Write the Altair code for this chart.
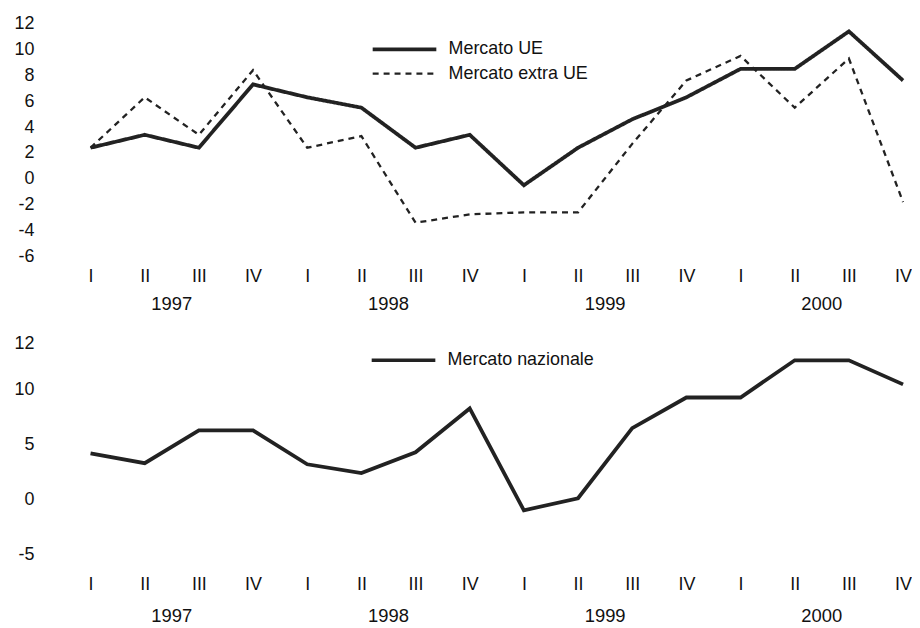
import json
import altair as alt
import pandas as pd

FONT = "Liberation Sans"
FS = 18

# ---- data ----
quarters = ["I", "II", "III", "IV", "I", "II", "III", "IV",
            "I", "II", "III", "IV", "I", "II", "III", "IV"]
years = ["1997", "1998", "1999", "2000"]
year_centers = [1.5, 5.5, 9.5, 13.5]

mercato_ue = [2.4, 3.4, 2.4, 7.3, 6.3, 5.5, 2.4, 3.4,
              -0.5, 2.4, 4.6, 6.3, 8.5, 8.5, 11.4, 7.6]
mercato_extra_ue = [2.4, 6.3, 3.4, 8.4, 2.4, 3.3, -3.4, -2.75,
                    -2.6, -2.6, 2.7, 7.6, 9.5, 5.5, 9.3, -1.8]
mercato_nazionale = [4.2, 3.3, 6.3, 6.3, 3.2, 2.4, 4.3, 8.3,
                     -1.0, 0.1, 6.5, 9.3, 9.3, 12.7, 12.7, 10.5]

top_ticks = [-6, -4, -2, 0, 2, 4, 6, 8, 10, 12]
top_tick_labels = ["-6", "-4", "-2", "0", "2", "4", "6", "8", "10", "12"]
bottom_ticks = [-5, 0, 5, 10, 14.2]
bottom_tick_labels = ["-5", "0", "5", "10", "12"]

series_top = ["Mercato UE", "Mercato extra UE"]
series_bottom = ["Mercato nazionale"]

# ---- tables ----
t = list(range(len(quarters)))
df_top = pd.DataFrame({
    "t": t + t,
    "serie": [series_top[0]] * len(t) + [series_top[1]] * len(t),
    "v": mercato_ue + mercato_extra_ue,
})
df_bot = pd.DataFrame({"t": t, "serie": series_bottom * len(t), "v": mercato_nazionale})
df_years = pd.DataFrame({"t": year_centers, "year": years})

W = 817
H_TOP = 234
H_BOT = 222.4
INK = "#222222"

x_enc = alt.X(
    "t:Q",
    scale=alt.Scale(domain=[0, len(quarters) - 1], nice=False, zero=False),
    axis=alt.Axis(values=t, labelExpr=f"{json.dumps(quarters)}[datum.value]",
                  title=None, labelPadding=11, labelAngle=0, labelFlush=False,
                  labelOverlap=False),
)


def tick_expr(values, labels):
    return f"{json.dumps(labels)}[indexof({json.dumps(values)}, datum.value)]"


def legend(lx, ly, row_pad):
    return alt.Legend(title=None, orient="none", legendX=lx, legendY=ly,
                      symbolType="M-4,0H4", symbolSize=256,
                      symbolStrokeColor=INK, labelOffset=34.3, rowPadding=row_pad,
                      labelFont=FONT, labelFontSize=FS, labelColor="#111",
                      padding=0, labelLimit=0)


leg_top = legend(305.7, 16.0, 5.7)
top_lines = alt.Chart(df_top).mark_line(color=INK).encode(
    x=x_enc,
    y=alt.Y("v:Q", scale=alt.Scale(domain=[top_ticks[0], top_ticks[-1]], nice=False, zero=False),
            axis=alt.Axis(values=top_ticks, title=None, labelPadding=57,
                          labelExpr=tick_expr(top_ticks, top_tick_labels))),
    strokeDash=alt.StrokeDash("serie:N", scale=alt.Scale(domain=series_top, range=[[1, 0], [6, 5]]),
                              legend=leg_top),
    strokeWidth=alt.StrokeWidth("serie:N", scale=alt.Scale(domain=series_top, range=[3.8, 2.3]),
                                legend=leg_top),
)


def year_layer(h, off):
    return alt.Chart(df_years).mark_text(baseline="alphabetic", align="center", font=FONT,
                                         fontSize=FS + 0.5, color="#111").encode(
        x=x_enc, y=alt.value(h + off), text="year:N")


top = alt.layer(top_lines, year_layer(H_TOP, 54)).properties(width=W, height=H_TOP)

bot_lines = alt.Chart(df_bot).mark_line(strokeWidth=3.8).encode(
    x=x_enc,
    y=alt.Y("v:Q", scale=alt.Scale(domain=[-6, bottom_ticks[-1]], nice=False, zero=False),
            axis=alt.Axis(values=bottom_ticks, title=None, labelPadding=57,
                          labelExpr=tick_expr(bottom_ticks, bottom_tick_labels))),
    color=alt.Color("serie:N", scale=alt.Scale(domain=series_bottom, range=[INK]),
                    legend=legend(304.7, 6.45, 5.7)),
)
bottom = alt.layer(bot_lines, year_layer(H_BOT, 57)).properties(width=W, height=H_BOT)

chart = alt.vconcat(top, bottom, spacing=21).resolve_legend(
    color="independent", strokeDash="independent", strokeWidth="independent"
).properties(
    padding={"left": 5, "top": 5, "right": 0, "bottom": 0}
).configure_view(stroke=None).configure_axis(
    grid=False, domain=False, ticks=False, tickSize=0,
    labelFont=FONT, labelFontSize=FS, labelColor="#111",
).configure_legend(symbolStrokeWidth=3.5)

chart.save("out.html", embed_options={"renderer": "svg", "actions": False})
